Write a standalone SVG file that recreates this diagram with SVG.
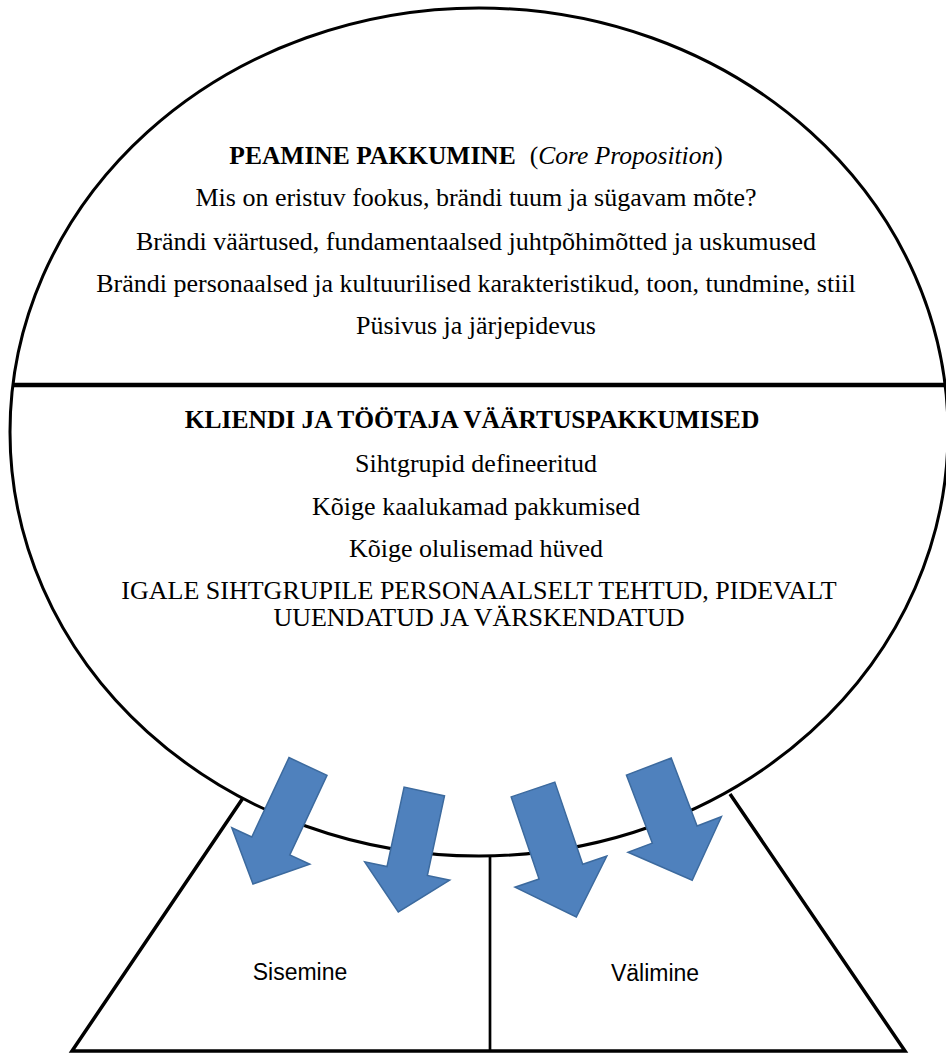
<svg xmlns="http://www.w3.org/2000/svg" width="946" height="1058" viewBox="0 0 946 1058">
  <style>
    .serif { font-family: "Liberation Serif", "Times New Roman", serif; font-size: 26px; fill: #000; text-anchor: middle; }
    .bold { font-weight: bold; }
    .head { font-size: 25.5px; }
    .ital { font-style: italic; }
    .sans { font-family: "Liberation Sans", Arial, sans-serif; font-size: 23px; fill: #000; text-anchor: middle; }
    .outline { fill: #fff; stroke: #000; stroke-width: 3; }
    .rule { stroke: #000; stroke-width: 4.5; }
    .edge { stroke: #000; stroke-width: 3.5; fill: none; }
    .split { stroke: #000; stroke-width: 2.7; }
    .arrow { fill: #4F81BD; stroke: #3C6A9E; stroke-width: 1.5; stroke-linejoin: miter; }
  </style>

  <rect width="946" height="1058" fill="#fff"/>

  <!-- lower base: two halves of the trapezoid -->
  <g id="base">
    <path class="edge" d="M243,798 L72,1051 L905,1051 L730,794"/>
    <line class="split" x1="490" y1="855" x2="490" y2="1052"/>
  </g>

  <!-- globe outline -->
  <g id="globe">
    <ellipse class="outline" cx="479" cy="432" rx="469" ry="424"/>
    <line class="rule" x1="13" y1="385" x2="946" y2="385"/>
  </g>

  <!-- upper half: core proposition -->
  <g id="core-proposition">
    <text class="serif head" x="476" y="164"><tspan class="bold">PEAMINE PAKKUMINE</tspan><tspan dx="14">(</tspan><tspan class="ital">Core Proposition</tspan><tspan>)</tspan></text>
    <text class="serif" x="476" y="206">Mis on eristuv fookus, brändi tuum ja sügavam mõte?</text>
    <text class="serif" x="476" y="250">Brändi väärtused, fundamentaalsed juhtpõhimõtted ja uskumused</text>
    <text class="serif" x="476" y="292">Brändi personaalsed ja kultuurilised karakteristikud, toon, tundmine, stiil</text>
    <text class="serif" x="476" y="334">Püsivus ja järjepidevus</text>
  </g>

  <!-- lower half: value propositions -->
  <g id="value-propositions">
    <text class="serif bold head" x="472" y="428">KLIENDI JA TÖÖTAJA VÄÄRTUSPAKKUMISED</text>
    <text class="serif" x="476" y="472">Sihtgrupid defineeritud</text>
    <text class="serif" x="476" y="515">Kõige kaalukamad pakkumised</text>
    <text class="serif" x="476" y="557">Kõige olulisemad hüved</text>
    <text class="serif" x="479" y="599">IGALE SIHTGRUPILE PERSONAALSELT TEHTUD, PIDEVALT</text>
    <text class="serif" x="479" y="626">UUENDATUD JA VÄRSKENDATUD</text>
  </g>

  <g id="internal">
    <text class="sans" x="300" y="980">Sisemine</text>
  </g>

  <g id="external">
    <text class="sans" x="655" y="981">Välimine</text>
  </g>

  <!-- block arrows flowing from the globe into the base -->
  <g id="connectors" transform="translate(0,-23)">
    <polygon class="arrow" points="289,780.6 251.8,860 231.8,850.7 253,907 309.8,887.2 289.8,877.9 327,798.4"/>
    <polygon class="arrow" points="404.1,810.1 387,889.6 364.7,884.8 398.3,935 449.7,903.2 427.4,898.4 444.5,818.9"/>
    <polygon class="arrow" points="511.2,819.9 539.1,902 515,910.2 576.3,940 606.8,879 582.7,887.2 554.8,805.1"/>
    <polygon class="arrow" points="626.4,798.1 652.3,866.1 628,875.3 692.2,903.3 721.4,839.7 697.1,849 671.2,781"/>
  </g>
</svg>
